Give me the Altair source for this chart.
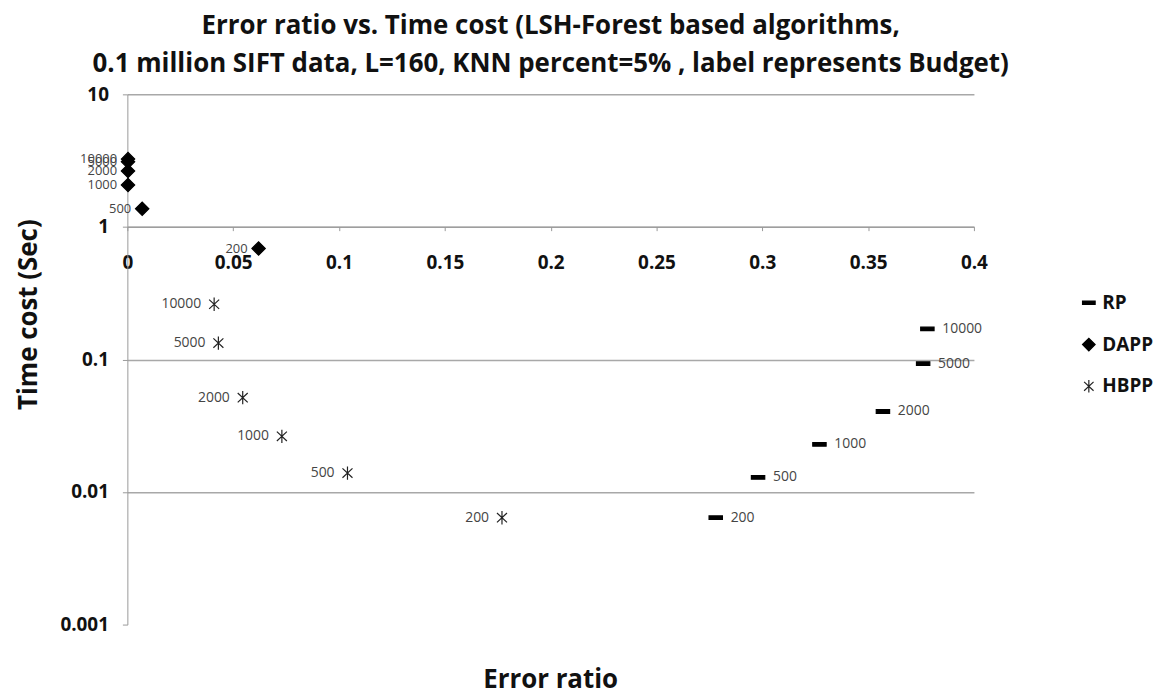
import altair as alt
import pandas as pd

series_names = ["RP", "DAPP", "HBPP"]
budgets = [200, 500, 1000, 2000, 5000, 10000]

rp_err = [0.278, 0.298, 0.327, 0.357, 0.376, 0.378]
rp_time = [0.0064, 0.0129, 0.0229, 0.0405, 0.093, 0.17]
dapp_err = [0.062, 0.007, 0.0003, 0.0003, 0.0003, 0.0003]
dapp_time = [0.687, 1.37, 2.07, 2.64, 3.1, 3.25]
hbpp_err = [0.177, 0.104, 0.073, 0.0545, 0.043, 0.041]
hbpp_time = [0.0064, 0.0139, 0.0263, 0.0515, 0.133, 0.261]

x_ticks = [0, 0.05, 0.1, 0.15, 0.2, 0.25, 0.3, 0.35, 0.4]
y_ticks = [0.001, 0.01, 0.1, 1, 10]

rows = []
for name, errs, times in [("RP", rp_err, rp_time), ("DAPP", dapp_err, dapp_time), ("HBPP", hbpp_err, hbpp_time)]:
    for b, e, t in zip(budgets, errs, times):
        rows.append({"series": name, "err": e, "time": t, "budget": str(b)})
df = pd.DataFrame(rows)

FONT = "Open Sans"
INK = "#111"
bar_path = "M-1,-0.27L1,-0.27L1,0.27L-1,0.27Z"
star_path = "M0,-1L0,1M-0.75,-0.7L0.75,0.7M-0.75,0.7L0.75,-0.7"

x_enc = alt.X(
    "err:Q",
    scale=alt.Scale(domain=[0, 0.4], nice=False, zero=False),
    axis=alt.Axis(
        values=x_ticks, format="~g", offset=-400, grid=False,
        title="Error ratio", titleY=442, titleX=425,
        titleFont=FONT, titleFontSize=26, titleFontWeight="bold", titleColor=INK,
        labelFont=FONT, labelFontSize=19, labelFontWeight="bold", labelColor=INK,
        labelPadding=23, tickSize=4, tickColor="#999", domainColor="#999",
        labelFlush=False,
    ),
)
y_enc = alt.Y(
    "time:Q",
    scale=alt.Scale(type="log", domain=[0.001, 10], nice=False),
    axis=alt.Axis(
        values=y_ticks, format="~g", grid=True,
        gridColor="#a8a8a8", gridWidth=1.5,
        gridOpacity=alt.expr("datum.value < 0.002 ? 0 : 1"),
        title="Time cost (Sec)", titleX=-91, titleY=221, titleBaseline="alphabetic",
        titleFont=FONT, titleFontSize=26, titleFontWeight="bold", titleColor=INK,
        labelFont=FONT, labelFontSize=19, labelFontWeight="bold", labelColor=INK,
        labelPadding=14, tickSize=5, tickColor="#999", domainColor="#999",
    ),
)

legend = alt.Legend(
    title=None, orient="none", legendX=957, legendY=200,
    labelFont=FONT, labelFontSize=19, labelFontWeight="bold", labelColor=INK,
    rowPadding=22, symbolSize=160, symbolStrokeWidth=1.2,
)

points = alt.Chart(df).mark_point(strokeWidth=1.2, opacity=1, size=180).encode(
    x=x_enc,
    y=y_enc,
    shape=alt.Shape("series:N", scale=alt.Scale(domain=series_names, range=[bar_path, "diamond", star_path]), legend=legend),
    fill=alt.Fill("series:N", scale=alt.Scale(domain=series_names, range=["black", "black", "transparent"]), legend=legend),
    stroke=alt.Stroke("series:N", scale=alt.Scale(domain=series_names, range=["black", "black", "#222"]), legend=legend),
)

lab_dapp = alt.Chart(df).transform_filter("datum.series == 'DAPP'").mark_text(
    align="right", dx=-11, font=FONT, fontSize=13, color="#444"
).encode(x="err:Q", y="time:Q", text="budget:N")

lab_hbpp = alt.Chart(df).transform_filter("datum.series == 'HBPP'").mark_text(
    align="right", dx=-13, font=FONT, fontSize=14, color="#444"
).encode(x="err:Q", y="time:Q", text="budget:N")

lab_rp = alt.Chart(df).transform_filter("datum.series == 'RP'").mark_text(
    align="left", dx=15, font=FONT, fontSize=14, color="#444"
).encode(x="err:Q", y="time:Q", text="budget:N")

chart = alt.layer(points, lab_dapp, lab_hbpp, lab_rp).properties(
    width=851, height=533,
    autosize=alt.AutoSizeParams(type="none"),
    padding={"left": 120, "top": 85, "right": 180, "bottom": 72},
    title=alt.Title(
        ["Error ratio vs. Time cost (LSH-Forest based algorithms,",
         "0.1 million SIFT data, L=160, KNN percent=5% , label represents Budget)"],
        font=FONT, fontSize=26, fontWeight="bold", color=INK,
        anchor="middle", lineHeight=39, offset=8,
    ),
).configure_view(stroke=None)

chart.save("out.html", embed_options={"renderer": "svg", "actions": False})
